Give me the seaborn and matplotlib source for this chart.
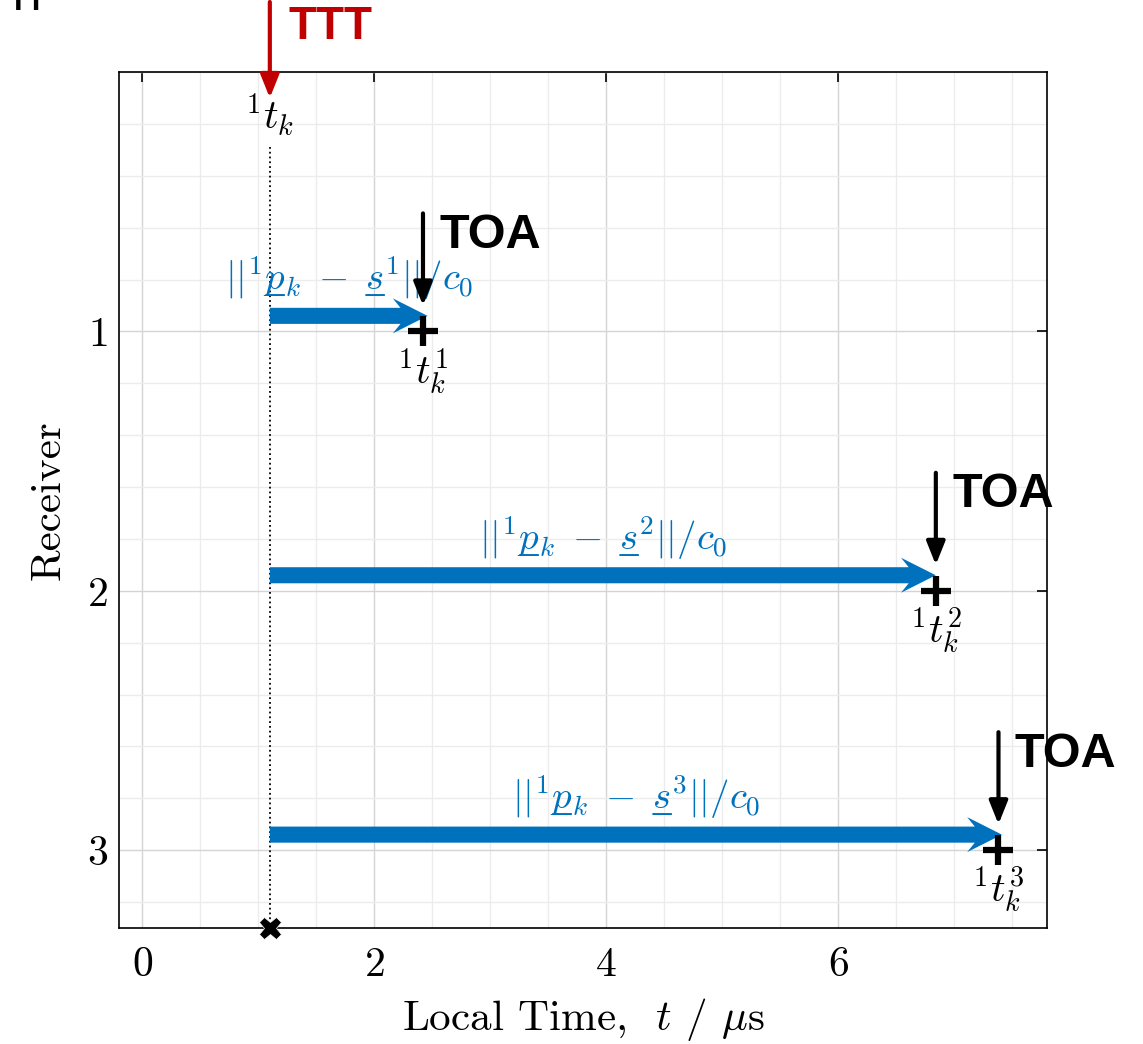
import numpy as np
import matplotlib.pyplot as plt
import seaborn as sns
from matplotlib.ticker import MultipleLocator

# data
t_emit = 1.1                      # transmit time 1t_k
receivers = [1, 2, 3]
toa = [2.42, 6.84, 7.38]          # arrival times 1t_k^i
arrow_tip = [2.46, 6.84, 7.41]
arrow_row = [0.94, 1.94, 2.94]
dist_labels = ["$||^1p\u0332_k\\;-\\;s\u0332^{%d}||/c_0$" % r for r in receivers]
t_labels = [r"${}^1t_k^{%d}$" % r for r in receivers]

blue = '#0072BD'
red = '#C00000'

sns.set_theme(style='white')
plt.rcParams['font.family'] = 'serif'
plt.rcParams['font.serif'] = ['cmr10', 'DejaVu Serif']
plt.rcParams['mathtext.fontset'] = 'cm'
plt.rcParams['axes.formatter.use_mathtext'] = True
plt.rcParams['text.color'] = 'black'
plt.rcParams['axes.labelcolor'] = 'black'

fig = plt.figure(figsize=(11.43, 10.44), dpi=100)
ax = fig.add_axes([0.1041, 0.1111, 0.8121, 0.8199])

ax.set_xlim(-0.2, 7.8)
ax.set_ylim(3.3, 0)
ax.xaxis.set_major_locator(MultipleLocator(2))
ax.xaxis.set_minor_locator(MultipleLocator(0.5))
ax.yaxis.set_major_locator(MultipleLocator(1))
ax.yaxis.set_minor_locator(MultipleLocator(0.2))
ax.set_yticks(receivers)
ax.grid(which='major', color='#d4d4d4', lw=1.0)
ax.grid(which='minor', color='#ececec', lw=1.0)
ax.set_axisbelow(True)
ax.tick_params(which='major', direction='in', length=7, width=1.2,
               top=True, right=True, labelsize=30, colors='black')
ax.tick_params(axis='x', pad=13)
ax.tick_params(axis='y', pad=8)
ax.tick_params(which='minor', length=0)
for s in ax.spines.values():
    s.set_color('black')
    s.set_linewidth(1.2)

ax.set_xlabel(r"Local Time,  $t$ / $\mu$s", fontsize=31, labelpad=9)
ax.set_ylabel("Receiver", fontsize=31, labelpad=14)

# cropped label from a neighbouring panel at the top-left corner
fig.text(0.0075, 0.9904, 'TT', fontsize=22, fontweight='bold',
         family='Liberation Sans', va='baseline', ha='left')

# dotted line at transmit time
ax.plot([t_emit, t_emit], [0.29, 3.3], ls=':', color='black', lw=1.3, clip_on=False)
ax.plot([t_emit], [3.3], marker='X', ms=16, color='black', mec='white', mew=0.5,
        clip_on=False, zorder=5)

# TTT arrow
ax.annotate('', xy=(t_emit, 0.10), xytext=(t_emit, -0.27), annotation_clip=False,
            arrowprops=dict(arrowstyle='-|>,head_length=0.7,head_width=0.28',
                            color=red, lw=3, shrinkA=0, shrinkB=0, mutation_scale=20))
ax.text(t_emit + 0.16, -0.175, 'TTT', color=red, fontsize=33, fontweight='bold',
        family='Liberation Sans', va='center', ha='left', clip_on=False)
ax.text(t_emit, 0.165, r"${}^1t_k$", fontsize=29, ha='center', va='center')

# blue propagation arrows
for r, tip, yr, lab in zip(receivers, arrow_tip, arrow_row, dist_labels):
    ax.arrow(t_emit, yr, tip - t_emit, 0, width=0.062, head_width=0.135,
             head_length=0.30, overhang=0.22, length_includes_head=True,
             color=blue, lw=0, zorder=4)
    ax.text((t_emit + tip) / 2, yr - 0.145, lab, color=blue, fontsize=28,
            ha='center', va='center')

# arrival markers
sns.scatterplot(x=toa, y=receivers, marker='+', s=450, linewidth=4.5,
                color='black', ax=ax, zorder=6, legend=False)

for r, t, lab in zip(receivers, toa, t_labels):
    ax.annotate('', xy=(t, r - 0.10), xytext=(t, r - 0.455),
                arrowprops=dict(arrowstyle='-|>,head_length=0.7,head_width=0.28',
                                color='black', lw=3, shrinkA=0, shrinkB=0, mutation_scale=20))
    ax.text(t + 0.14, r - 0.37, 'TOA', fontsize=35, fontweight='bold',
            family='Liberation Sans', va='center', ha='left', clip_on=False)
    ax.text(t, r + 0.155, lab, fontsize=29, ha='center', va='center')

fig.savefig('out.png', dpi=100)
